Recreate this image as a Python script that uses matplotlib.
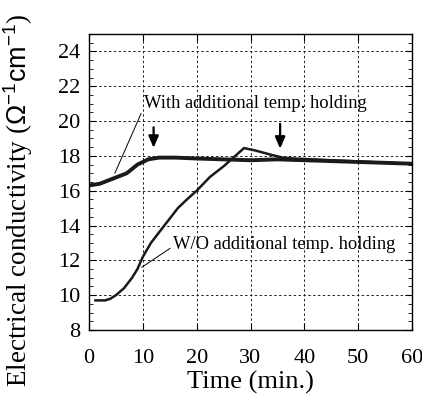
import matplotlib
matplotlib.use('Agg')
import matplotlib.pyplot as plt
from matplotlib.ticker import MultipleLocator

plt.rcParams['font.family'] = ['Liberation Serif', 'DejaVu Serif']
plt.rcParams['mathtext.fontset'] = 'custom'
plt.rcParams['mathtext.sf'] = 'Liberation Sans'

# with additional temperature holding
t_with = [0, 2, 4.5, 7, 9, 11, 13, 16, 20, 25, 30, 35, 40, 45, 50, 55, 60]
s_with = [16.3, 16.4, 16.7, 17.0, 17.5, 17.8, 17.9, 17.9, 17.85, 17.8, 17.75,
          17.8, 17.75, 17.7, 17.65, 17.6, 17.55]

# without additional temperature holding
t_wo = [1.2, 3, 4, 5, 6.5, 8, 9, 10, 11.5, 14, 16.5, 18.2, 20, 22.5, 25, 27,
        28.8, 31, 34, 36, 38, 45, 52, 60]
s_wo = [9.7, 9.7, 9.8, 10.0, 10.4, 11.0, 11.5, 12.2, 13.0, 14.0, 15.0, 15.5,
        16.0, 16.8, 17.4, 17.95, 18.45, 18.3, 18.05, 17.9, 17.85, 17.75, 17.65,
        17.55]

fig = plt.figure(figsize=(4.22, 3.94), dpi=100)
ax = fig.add_axes([89/422, 1-330/394, (412-89)/422, (330-34)/394])

ax.plot(t_with, s_with, color='#1a1a1a', lw=2.8)
ax.plot(t_wo, s_wo, color='#1a1a1a', lw=1.8)

ax.set_xlim(0, 60)
ax.set_ylim(8, 25)
ax.xaxis.set_major_locator(MultipleLocator(10))
ax.yaxis.set_major_locator(MultipleLocator(2))
ax.yaxis.set_minor_locator(MultipleLocator(0.5))
ax.tick_params(which='both', direction='in', top=True, right=True, labelsize=16)
ax.tick_params(which='major', length=5)
ax.tick_params(which='minor', length=3)
ax.tick_params(axis='x', pad=14)
ax.tick_params(axis='y', pad=6)
ax.grid(True, which='major', color='#222222', ls=(0, (2.5, 2.5)), lw=0.7)
for s in ax.spines.values():
    s.set_linewidth(1.0)

# arrows
ax.annotate('', xy=(12.0, 18.3), xytext=(12.0, 19.8),
            arrowprops=dict(arrowstyle='-|>,head_width=0.3,head_length=0.7',
                            color='black', lw=1.6))
ax.annotate('', xy=(35.5, 18.25), xytext=(35.5, 20.0),
            arrowprops=dict(arrowstyle='-|>,head_width=0.3,head_length=0.7',
                            color='black', lw=1.6))

ax.annotate('With additional temp. holding', xy=(4.8, 17.0), xytext=(10.2, 21.0),
            fontsize=13.3, va='center',
            arrowprops=dict(arrowstyle='-', color='black', lw=0.7,
                            shrinkA=0, shrinkB=0, relpos=(0, 0.3)))
ax.annotate('W/O additional temp. holding', xy=(9.8, 11.6), xytext=(15.6, 12.9),
            fontsize=13.3, va='center',
            arrowprops=dict(arrowstyle='-', color='black', lw=0.7,
                            shrinkA=0, shrinkB=0, relpos=(0, 0.4)))

ax.set_xlabel('Time (min.)', fontsize=19, labelpad=2)
ax.set_ylabel(r'Electrical conductivity ($\mathsf{\Omega^{-1}cm^{-1}}$)',
              fontsize=19.5)
ax.yaxis.set_label_coords(-0.167, 0.44)

fig.savefig('out.png', dpi=100)
